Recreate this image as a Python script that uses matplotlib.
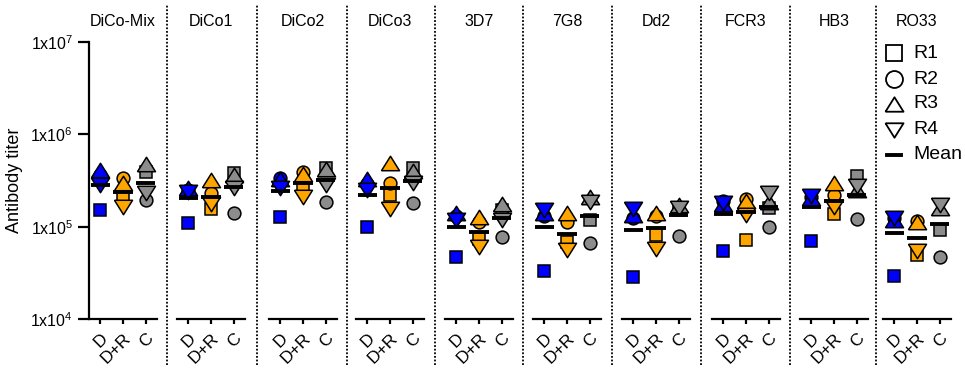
import matplotlib
matplotlib.use("Agg")
import matplotlib.pyplot as plt
from matplotlib.lines import Line2D

plt.rcParams["font.family"] = ["Liberation Sans", "DejaVu Sans"]

PANELS = ["DiCo-Mix", "DiCo1", "DiCo2", "DiCo3", "3D7", "7G8", "Dd2", "FCR3", "HB3", "RO33"]
GROUPS = ["D", "D+R", "C"]
GROUP_COLORS = ["#0000ff", "#ffa500", "#8c8c8c"]

# titer per panel, order D, D+R, C
R1 = [[1.5e5, 2.1e5, 3.9e5], [1.09e5, 1.56e5, 3.8e5], [1.27e5, 2.7e5, 4.3e5], [1.0e5, 2.2e5, 4.3e5],
      [4.66e4, 7.3e4, 1.5e5], [3.3e4, 6.8e4, 1.18e5], [2.87e4, 8.1e4, 1.5e5], [5.5e4, 7.2e4, 1.58e5],
      [7.0e4, 1.37e5, 3.5e5], [2.9e4, 4.9e4, 9.2e4]]
R2 = [[3.6e5, 3.4e5, 1.95e5], [2.5e5, 2.3e5, 1.4e5], [3.4e5, 3.9e5, 1.86e5], [2.9e5, 2.95e5, 1.8e5],
      [1.3e5, 1.13e5, 7.7e4], [1.29e5, 1.13e5, 6.6e4], [1.23e5, 1.3e5, 7.9e4], [1.9e5, 1.98e5, 9.8e4],
      [2.1e5, 2.2e5, 1.2e5], [1.25e5, 1.15e5, 4.66e4]]
R3 = [[4.1e5, 3.0e5, 4.8e5], [2.6e5, 3.2e5, 3.6e5], [3.3e5, 3.7e5, 4.2e5], [3.3e5, 4.9e5, 4.0e5],
      [1.42e5, 1.27e5, 1.77e5], [1.4e5, 1.4e5, 2.08e5], [1.33e5, 1.42e5, 1.72e5], [1.75e5, 1.9e5, 1.86e5],
      [2.03e5, 3.0e5, 2.5e5], [1.17e5, 1.13e5, 1.6e5]]
R4 = [[2.85e5, 1.65e5, 2.3e5], [2.4e5, 1.77e5, 2.65e5], [2.6e5, 2.08e5, 2.8e5], [2.5e5, 1.55e5, 3.0e5],
      [1.18e5, 6.0e4, 1.18e5], [1.52e5, 5.6e4, 1.86e5], [1.54e5, 5.8e4, 1.58e5], [1.8e5, 1.34e5, 2.34e5],
      [2.16e5, 1.64e5, 2.75e5], [1.23e5, 5.5e4, 1.72e5]]
MEANS = [[2.8e5, 2.4e5, 2.95e5], [2.03e5, 2.1e5, 2.7e5], [2.45e5, 3.0e5, 3.2e5], [2.2e5, 2.65e5, 3.15e5],
         [1.0e5, 8.7e4, 1.25e5], [9.8e4, 8.3e4, 1.3e5], [9.3e4, 9.6e4, 1.34e5], [1.37e5, 1.45e5, 1.65e5],
         [1.65e5, 1.92e5, 2.2e5], [8.6e4, 7.6e4, 1.07e5]]

REPLICATES = ["R1", "R2", "R3", "R4"]

# wide Prism-style triangles (closed paths)
TRI_UP = [(-0.625, -0.5), (0.625, -0.5), (0.0, 0.5), (-0.625, -0.5)]
TRI_DOWN = [(-0.625, 0.5), (0.625, 0.5), (0.0, -0.5), (-0.625, 0.5)]
MARKERS = [("s", 9), ("o", 9.2), (TRI_UP, 13), (TRI_DOWN, 13)]

W, H = 965, 369
fig = plt.figure(figsize=(W / 100, H / 100), dpi=100)

# panel left edges in pixels (measured), all panels 68 px wide
lefts = [89, 177, 269, 356, 445, 533, 622, 712, 800, 883]
pw = 68
bottom = (H - 319) / H
height = (319 - 42) / H

for p, name in enumerate(PANELS):
    ax = fig.add_axes([lefts[p] / W, bottom, pw / W, height])
    ax.set_yscale("log")
    ax.set_ylim(1e4, 1e7)
    ax.set_xlim(-0.5, 2.5)
    for s in ["top", "right"]:
        ax.spines[s].set_visible(False)
    ax.spines["bottom"].set_linewidth(1.6)
    ax.spines["left"].set_linewidth(1.6)

    for g in range(3):
        vals = [R1[p][g], R2[p][g], R3[p][g], R4[p][g]]
        for v, (m, ms) in zip(vals, MARKERS):
            ax.plot([g], [v], marker=m, markersize=ms, color=GROUP_COLORS[g],
                    markeredgecolor="black", markeredgewidth=1.1, linestyle="none", zorder=3)
        ax.hlines(MEANS[p][g], g - 0.42, g + 0.42, colors="black", linewidth=2.8, zorder=4)

    ax.set_xticks(range(3))
    ax.set_xticklabels(GROUPS, rotation=45, ha="right", rotation_mode="anchor", fontsize=12.5)
    ax.tick_params(axis="x", length=3.5, width=1.6, pad=5)
    ax.minorticks_off()
    if p == 0:
        ax.set_yticks([1e4, 1e5, 1e6, 1e7])
        ax.set_yticklabels([r"$\mathregular{1x10^{%d}}$" % e for e in (4, 5, 6, 7)], fontsize=11.5)
        ax.tick_params(axis="y", which="major", length=8, width=1.6, pad=3.5)
        ax.tick_params(axis="y", which="minor", length=0)
        ax.set_ylabel("Antibody titer", fontsize=13, labelpad=5)
    else:
        ax.spines["left"].set_visible(False)
        ax.set_yticks([])
        ax.tick_params(axis="y", which="both", length=0, labelleft=False)

    fig.text((lefts[p] + pw / 2) / W, 1 - 22 / H, name, ha="center", va="center", fontsize=11.5)

# dotted separators between panels
for p in range(1, len(PANELS)):
    xs = (lefts[p - 1] + pw + lefts[p]) / 2 / W
    fig.add_artist(Line2D([xs, xs], [0.01, 0.99], transform=fig.transFigure, color="black",
                          linewidth=1.3, linestyle=(0, (1, 1))))

# legend
leg_y = [53, 79, 104, 130, 155]
for i, (lab, (m, ms)) in enumerate(zip(REPLICATES, MARKERS)):
    y = 1 - leg_y[i] / H
    fig.add_artist(Line2D([894 / W], [y], transform=fig.transFigure, marker=m,
                          markersize=ms + 3 if i < 2 else ms, markerfacecolor="white",
                          markeredgecolor="black", markeredgewidth=1.3, linestyle="none"))
    fig.text(913 / W, y, lab, ha="left", va="center", fontsize=14)
y = 1 - leg_y[4] / H
fig.add_artist(Line2D([887 / W, 901 / W], [y, y], transform=fig.transFigure, color="black", linewidth=2.8))
fig.text(913 / W, y, "Mean", ha="left", va="center", fontsize=14)

fig.savefig("out.png", dpi=100)
